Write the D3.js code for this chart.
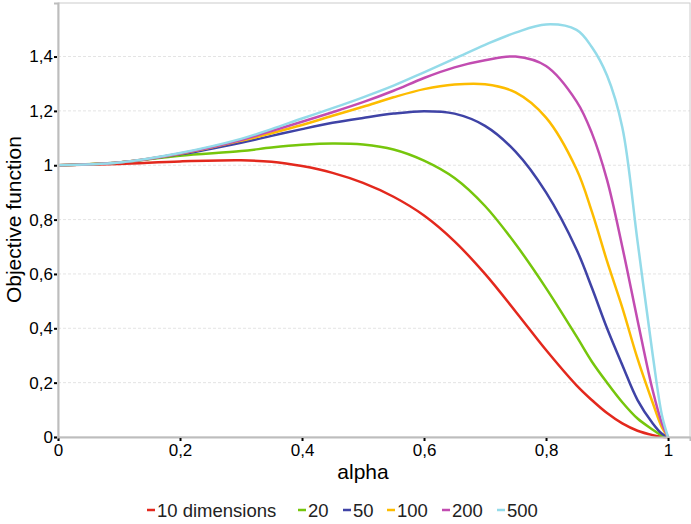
<!DOCTYPE html>
<html>
<head>
<meta charset="utf-8">
<script src="https://cdn.jsdelivr.net/npm/d3@7"></script>
<style>
	body { margin: 0; background: #fff; }
	svg { display: block; font-family: "Liberation Sans", Arial, sans-serif; }
</style>
</head>
<body>
<svg width="691" height="524"></svg>
<script>
	// alpha sample points shared by all series
	var alpha = [0, 0.1, 0.2, 0.3, 0.35, 0.4, 0.45, 0.5, 0.55, 0.6, 0.65, 0.7, 0.75, 0.8, 0.85, 0.875, 0.9, 0.925, 0.95, 0.975, 0.99, 1];

	var dim10  = [1, 1.005, 1.014, 1.018, 1.013, 0.997, 0.972, 0.935, 0.884, 0.815, 0.72, 0.6, 0.462, 0.32, 0.19, 0.136, 0.088, 0.05, 0.023, 0.007, 0.001, 0];
	var dim20  = [1, 1.01, 1.035, 1.052, 1.065, 1.075, 1.08, 1.076, 1.058, 1.017, 0.953, 0.85, 0.71, 0.548, 0.37, 0.278, 0.2, 0.128, 0.068, 0.027, 0.005, 0];
	var dim50  = [1, 1.01, 1.04, 1.083, 1.108, 1.133, 1.156, 1.174, 1.19, 1.199, 1.19, 1.145, 1.05, 0.9, 0.69, 0.55, 0.4, 0.265, 0.136, 0.05, 0.012, 0];
	var dim100 = [1, 1.01, 1.042, 1.09, 1.118, 1.148, 1.182, 1.215, 1.25, 1.28, 1.297, 1.298, 1.268, 1.175, 0.985, 0.83, 0.647, 0.476, 0.288, 0.125, 0.035, 0];
	var dim200 = [1, 1.01, 1.043, 1.093, 1.126, 1.16, 1.195, 1.232, 1.274, 1.321, 1.36, 1.386, 1.4, 1.365, 1.235, 1.119, 0.946, 0.7, 0.43, 0.17, 0.05, 0];
	var dim500 = [1, 1.01, 1.045, 1.097, 1.133, 1.172, 1.21, 1.25, 1.293, 1.342, 1.392, 1.443, 1.488, 1.518, 1.498, 1.435, 1.33, 1.14, 0.72, 0.3, 0.08, 0];

	var seriesNames = ["10 dimensions", "20", "50", "100", "200", "500"];
	var seriesValues = [dim10, dim20, dim50, dim100, dim200, dim500];
	var seriesColors = ["#e3281d", "#76c60c", "#3f43a6", "#fdbc00", "#c24cb1", "#94dbe9"];

	var xTicks = [0, 0.2, 0.4, 0.6, 0.8, 1];
	var yTicks = [0, 0.2, 0.4, 0.6, 0.8, 1, 1.2, 1.4];

	var svg = d3.select("svg");
	var margin = { top: 3, right: 1, bottom: 87, left: 58 };
	var width = +svg.attr("width") - margin.left - margin.right;
	var height = +svg.attr("height") - margin.top - margin.bottom;

	var x = d3.scaleLinear().domain([0, 1.036]).range([0, width]);
	var y = d3.scaleLinear().domain([0, 1.597]).range([height, 0]);

	function fmt(d) { return String(d).replace(".", ","); }

	var g = svg.append("g")
		.attr("transform", "translate(" + margin.left + "," + margin.top + ")");

	// horizontal grid
	g.append("g").selectAll("line")
		.data(yTicks.filter(function(d) { return d > 0; }))
		.enter().append("line")
			.attr("x1", 0)
			.attr("x2", width)
			.attr("y1", function(d) { return y(d); })
			.attr("y2", function(d) { return y(d); })
			.attr("stroke", "#e4e4e4")
			.attr("stroke-dasharray", "3,2");

	// frame
	g.append("rect")
		.attr("x", 0)
		.attr("y", 0)
		.attr("width", width)
		.attr("height", height)
		.attr("fill", "none")
		.attr("stroke", "#cccccc");

	// lines
	var line = d3.line()
		.x(function(d, i) { return x(alpha[i]); })
		.y(function(d) { return y(d); })
		.curve(d3.curveCatmullRom.alpha(0.5));

	g.append("g").selectAll("path")
		.data(seriesValues)
		.enter().append("path")
			.attr("d", function(d) { return line(d); })
			.attr("fill", "none")
			.attr("stroke", function(d, i) { return seriesColors[i]; })
			.attr("stroke-width", 2.5)
			.attr("stroke-linejoin", "round");

	// axes
	var xAxis = g.append("g")
		.attr("transform", "translate(0," + height + ")")
		.call(d3.axisBottom(x).tickValues(xTicks).tickFormat(fmt).tickSize(4).tickPadding(3));
	var yAxis = g.append("g")
		.call(d3.axisLeft(y).tickValues(yTicks).tickFormat(fmt).tickSize(4).tickPadding(1));

	[xAxis, yAxis].forEach(function(a) {
		a.select(".domain").attr("stroke", "#bdbdbd").attr("stroke-width", 2);
		a.selectAll(".tick line").attr("stroke", "#000").attr("stroke-width", 2);
		a.selectAll(".tick text").attr("fill", "#000").style("font-size", "17px");
	});
	// ticks sit outside only at the inner side of the axis line
	xAxis.selectAll(".tick line").attr("y1", 1).attr("y2", 4);
	yAxis.selectAll(".tick line").attr("x1", -1).attr("x2", -4);

	// axis titles
	svg.append("text")
		.attr("x", margin.left + x(0.5))
		.attr("y", 479)
		.attr("text-anchor", "middle")
		.style("font-size", "21px")
		.text("alpha");

	svg.append("text")
		.attr("transform", "translate(21," + (margin.top + y(0.8)) + ") rotate(-90)")
		.attr("text-anchor", "middle")
		.style("font-size", "21px")
		.text("Objective function");

	// legend
	var legendX = [147, 298, 343, 387, 442, 497];
	var legend = svg.append("g").selectAll("g")
		.data(seriesNames)
		.enter().append("g")
			.attr("transform", function(d, i) { return "translate(" + legendX[i] + ",510)"; });

	legend.append("line")
		.attr("x1", 0)
		.attr("x2", 8)
		.attr("stroke", function(d, i) { return seriesColors[i]; })
		.attr("stroke-width", 2.5);

	legend.append("text")
		.attr("x", 10)
		.attr("dy", "0.36em")
		.style("font-size", "18.5px")
		.attr("fill", "#222")
		.text(function(d) { return d; });
</script>
</body>
</html>
